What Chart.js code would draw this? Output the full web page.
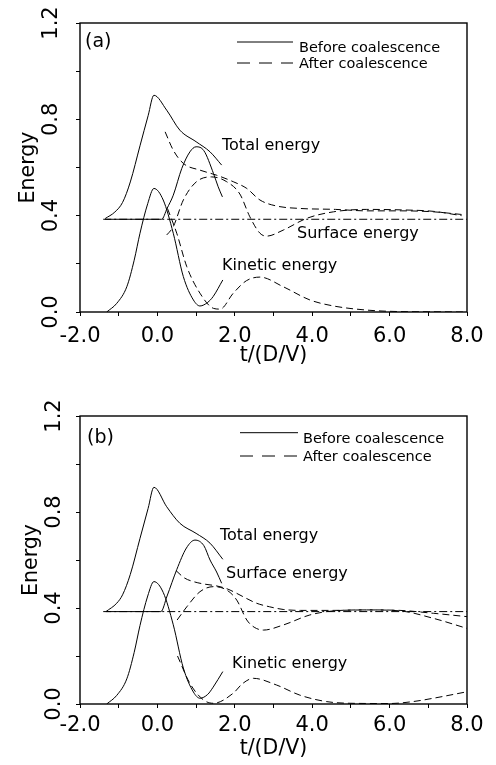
<!DOCTYPE html>
<html><head><meta charset="utf-8">
<script src="https://cdn.jsdelivr.net/npm/chart.js@4.4.1/dist/chart.umd.min.js"></script>
<style>
html,body{margin:0;padding:0;background:#fff;}
#wrapA{position:absolute;left:0;top:0;width:496px;height:380px;}
#wrapB{position:absolute;left:0;top:380px;width:496px;height:385px;}
</style></head><body>
<div id="wrapA"><canvas id="chartA" width="496" height="380"></canvas></div>
<div id="wrapB"><canvas id="chartB" width="496" height="385"></canvas></div>
<script>
// ---------- axis ticks ----------
const xTickLabels = ['-2.0','0.0','2.0','4.0','6.0','8.0'];
const yTickLabels = ['0.0','0.4','0.8','1.2'];
const yTickValues = [0, 0.4, 0.8, 1.2];
const legendLabels = ['Before coalescence', 'After coalescence'];

// ---------- panel (a) ----------
const a_totBefore_t = [-1.35,-1.1,-0.9,-0.7,-0.45,-0.24,-0.09,0.24,0.58,1.0,1.36,1.66];
const a_totBefore_e = [0.388,0.415,0.455,0.54,0.69,0.815,0.90,0.838,0.755,0.707,0.665,0.61];
const a_surBefore_t = [-1.35,0.11,0.25,0.41,0.63,0.84,1.0,1.2,1.45,1.57,1.68];
const a_surBefore_e = [0.385,0.385,0.43,0.485,0.596,0.665,0.686,0.67,0.575,0.52,0.478];
const a_kinBefore_t = [-1.31,-1.05,-0.79,-0.6,-0.45,-0.25,-0.09,0.15,0.41,0.67,0.93,1.1,1.3,1.44,1.69];
const a_kinBefore_e = [0,0.036,0.105,0.215,0.327,0.45,0.513,0.465,0.327,0.147,0.05,0.025,0.04,0.064,0.133];
const a_totAfter_t = [0.2,0.41,0.67,1.1,1.53,1.96,2.31,2.65,3.08,3.68,4.6,5.41,6.3,7.13,7.86];
const a_totAfter_e = [0.748,0.672,0.617,0.589,0.568,0.541,0.513,0.465,0.44,0.43,0.426,0.42,0.42,0.416,0.405];
const a_surAfter_t = [0.24,0.3,0.41,0.67,1.01,1.4,1.79,2.13,2.39,2.65,2.82,3.25,3.86,4.55,5.41,6.3,7.13,7.86];
const a_surAfter_e = [0.32,0.33,0.354,0.465,0.541,0.561,0.541,0.49,0.395,0.327,0.315,0.34,0.389,0.416,0.426,0.424,0.418,0.40];
const a_kinAfter_t = [0.26,0.5,0.76,1.1,1.45,1.62,1.96,2.3,2.65,3.25,3.94,4.55,5.41,6.2,7.0,7.9];
const a_kinAfter_e = [0.43,0.327,0.188,0.078,0.015,0.012,0.078,0.13,0.145,0.105,0.05,0.025,0.008,0.002,0.001,0];
const a_ref_t = [-1.4, 8.0];
const a_ref_e = [0.385, 0.385];

// ---------- panel (b) ----------
const b_totBefore_t = [-1.33,-1.05,-0.9,-0.7,-0.45,-0.24,-0.09,0.24,0.58,1.0,1.36,1.69];
const b_totBefore_e = [0.385,0.42,0.455,0.54,0.69,0.815,0.903,0.822,0.753,0.711,0.67,0.603];
const b_surBefore_t = [-1.33,0.09,0.25,0.5,0.75,0.97,1.2,1.36,1.53,1.66];
const b_surBefore_e = [0.385,0.385,0.45,0.56,0.65,0.683,0.66,0.6,0.55,0.503];
const b_kinBefore_t = [-1.31,-1.05,-0.79,-0.6,-0.45,-0.25,-0.09,0.15,0.41,0.67,0.93,1.1,1.3,1.44,1.69];
const b_kinBefore_e = [0,0.036,0.105,0.215,0.327,0.45,0.51,0.465,0.33,0.15,0.05,0.024,0.04,0.07,0.135];
const b_totAfter_t = [0.48,0.7,0.93,1.2,1.53,1.8,2.05,2.3,2.56,2.9,3.25,3.7,4.5,5.4,6.27,7.13,8.0];
const b_totAfter_e = [0.556,0.525,0.51,0.5,0.492,0.48,0.461,0.44,0.42,0.405,0.394,0.39,0.39,0.392,0.39,0.378,0.364];
const b_surAfter_t = [0.51,0.76,1.1,1.45,1.79,2.05,2.31,2.5,2.74,3.25,3.94,4.55,5.41,6.27,7.13,8.0];
const b_surAfter_e = [0.35,0.405,0.468,0.489,0.475,0.433,0.35,0.32,0.308,0.329,0.371,0.388,0.392,0.388,0.357,0.315];
const b_kinAfter_t = [0.52,0.84,1.19,1.45,1.96,2.2,2.48,3.08,3.68,4.37,5.0,6.0,6.6,7.13,8.0];
const b_kinAfter_e = [0.2,0.086,0.017,0.003,0.045,0.085,0.107,0.079,0.037,0.01,0.003,0.002,0.01,0.024,0.051];
const b_ref_t = [-1.4, 8.0];
const b_ref_e = [0.385, 0.385];

const FONT = '"DejaVu Sans", sans-serif';
const pts = (t, e) => t.map((v, i) => ({x: v, y: e[i]}));

function ds(t, e, dash) {
  return {
    data: pts(t, e), borderColor: '#000', borderWidth: 1, borderDash: dash,
    pointRadius: 0, fill: false, cubicInterpolationMode: 'monotone'
  };
}
const SOLID = [], DASH = [7, 4], DASHDOT = [8, 3, 2, 3];

function makeChart(id, sets, cfg) {
  const deco = {
    id: 'deco',
    afterDraw(chart) {
      const ctx = chart.ctx, ca = chart.chartArea;
      const xs = chart.scales.x, ys = chart.scales.y;
      ctx.save();
      // frame
      ctx.strokeStyle = '#000'; ctx.lineWidth = 1.4;
      ctx.strokeRect(ca.left, ca.top, ca.right - ca.left, ca.bottom - ca.top);
      ctx.fillStyle = '#000';
      // rotated y tick labels
      ctx.font = '21px ' + FONT;
      ctx.textAlign = 'center'; ctx.textBaseline = 'alphabetic';
      yTickValues.forEach((v, i) => {
        const py = ys.getPixelForValue(v);
        ctx.save(); ctx.translate(cfg.yTickX, py); ctx.rotate(-Math.PI / 2);
        ctx.fillText(yTickLabels[i], 0, 0); ctx.restore();
      });
      // y title
      ctx.font = '20.5px ' + FONT;
      ctx.save(); ctx.translate(cfg.yTitleX, (ca.top + ca.bottom) / 2); ctx.rotate(-Math.PI / 2);
      ctx.fillText('Energy', 0, 0); ctx.restore();
      // panel letter
      ctx.textAlign = 'left';
      ctx.font = '19px ' + FONT;
      ctx.fillText(cfg.letter, cfg.letterX, cfg.letterY);
      // legend
      ctx.lineWidth = 1;
      ctx.beginPath(); ctx.setLineDash([]);
      ctx.moveTo(cfg.legX0, cfg.leg1Y); ctx.lineTo(cfg.legX1, cfg.leg1Y); ctx.stroke();
      ctx.beginPath(); ctx.setLineDash([13, 9]);
      ctx.moveTo(cfg.legX0, cfg.leg2Y); ctx.lineTo(cfg.legX1, cfg.leg2Y); ctx.stroke();
      ctx.setLineDash([]);
      ctx.font = '14.5px ' + FONT;
      ctx.fillText(legendLabels[0], cfg.legTextX, cfg.leg1TextY);
      ctx.fillText(legendLabels[1], cfg.legTextX, cfg.leg2TextY);
      // curve annotations (anchored in data coordinates)
      ctx.font = '16px ' + FONT;
      cfg.notes.forEach(n => {
        ctx.fillText(n.text, xs.getPixelForValue(n.x), ys.getPixelForValue(n.y));
      });
      ctx.restore();
    }
  };
  return new Chart(document.getElementById(id), {
    type: 'line',
    data: { datasets: sets },
    options: {
      responsive: false, animation: false,
      layout: { padding: { left: 0, right: 29, top: cfg.padTop, bottom: 0 } },
      plugins: { legend: { display: false }, tooltip: { enabled: false } },
      scales: {
        x: {
          type: 'linear', min: -2, max: 8,
          afterFit: s => { s.height = cfg.xHeight; },
          border: { display: false },
          grid: { display: true, drawOnChartArea: false, drawTicks: true, tickLength: 4, color: '#000', lineWidth: 1 },
          ticks: {
            stepSize: 1, autoSkip: false, maxRotation: 0, color: '#000', padding: cfg.xTickPad,
            font: { family: FONT, size: 21 },
            callback: v => (Math.round(v) % 2 === 0 ? xTickLabels[(Math.round(v) + 2) / 2] : '')
          },
          title: { display: true, text: 't/(D/V)', color: '#000', font: { family: FONT, size: 20.5 },
                   padding: { top: 0, bottom: cfg.titlePad } }
        },
        y: {
          type: 'linear', min: 0, max: 1.2,
          afterFit: s => { s.width = 80; },
          border: { display: false },
          grid: { display: true, drawOnChartArea: false, drawTicks: true, tickLength: 4, color: '#000', lineWidth: 1 },
          ticks: { stepSize: 0.2, display: false }
        }
      }
    },
    plugins: [deco]
  });
}

makeChart('chartA', [
  ds(a_ref_t, a_ref_e, DASHDOT),
  ds(a_totBefore_t, a_totBefore_e, SOLID),
  ds(a_surBefore_t, a_surBefore_e, SOLID),
  ds(a_kinBefore_t, a_kinBefore_e, SOLID),
  ds(a_totAfter_t, a_totAfter_e, DASH),
  ds(a_surAfter_t, a_surAfter_e, DASH),
  ds(a_kinAfter_t, a_kinAfter_e, DASH)
], {
  padTop: 23, xHeight: 68, xTickPad: 8, titlePad: 12,
  yTickX: 56.5, yTitleX: 33.5,
  letter: '(a)', letterX: 85, letterY: 47,
  legX0: 237, legX1: 293, leg1Y: 42, leg2Y: 63, legTextX: 299, leg1TextY: 52, leg2TextY: 68,
  notes: [
    {text: 'Total energy', x: 1.67, y: 0.672},
    {text: 'Surface energy', x: 3.607, y: 0.307},
    {text: 'Kinetic energy', x: 1.67, y: 0.174}
  ]
});

makeChart('chartB', [
  ds(b_ref_t, b_ref_e, DASHDOT),
  ds(b_totBefore_t, b_totBefore_e, SOLID),
  ds(b_surBefore_t, b_surBefore_e, SOLID),
  ds(b_kinBefore_t, b_kinBefore_e, SOLID),
  ds(b_totAfter_t, b_totAfter_e, DASH),
  ds(b_surAfter_t, b_surAfter_e, DASH),
  ds(b_kinAfter_t, b_kinAfter_e, DASH)
], {
  padTop: 36, xHeight: 61, xTickPad: 5, titlePad: 4,
  yTickX: 59.5, yTitleX: 37,
  letter: '(b)', letterX: 87, letterY: 62.5,
  legX0: 240, legX1: 298, leg1Y: 52.7, leg2Y: 76, legTextX: 303, leg1TextY: 63, leg2TextY: 81,
  notes: [
    {text: 'Total energy', x: 1.618, y: 0.683},
    {text: 'Surface energy', x: 1.773, y: 0.524},
    {text: 'Kinetic energy', x: 1.928, y: 0.15}
  ]
});
</script>
</body></html>
